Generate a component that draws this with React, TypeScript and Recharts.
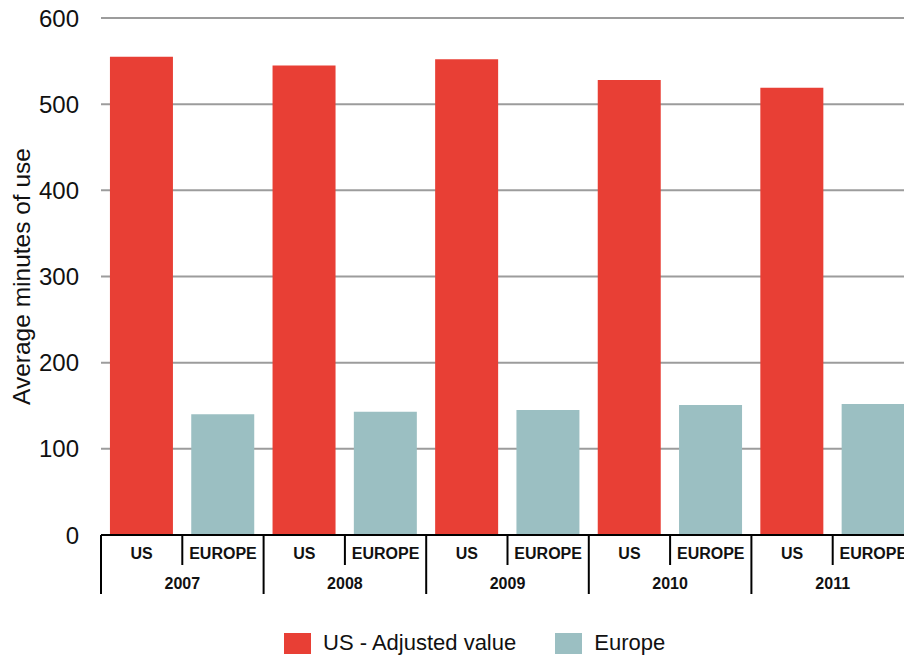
import React from "react";
import {
  BarChart,
  Bar,
  XAxis,
  YAxis,
  CartesianGrid,
  Legend,
} from "recharts";

const years = ["2007", "2008", "2009", "2010", "2011"];
const regions = ["US", "EUROPE"];
const usValues = [555, 545, 552, 528, 519];
const europeValues = [140, 143, 145, 151, 152];
const yTicks = [0, 100, 200, 300, 400, 500, 600];

const series = [
  { key: "us", name: "US - Adjusted value", color: "#E83F35" },
  { key: "europe", name: "Europe", color: "#9BBFC2" },
];

const data = years.flatMap((year, i) =>
  regions.map((region) => ({
    key: `${region}-${year}`,
    year,
    region,
    us: region === "US" ? usValues[i] : null,
    europe: region === "EUROPE" ? europeValues[i] : null,
  }))
);

const CHART_W = 914;
const CHART_H = 659;
const Y_AXIS_W = 101;
const BAND = (CHART_W - Y_AXIS_W) / data.length;
const FONT = "'Liberation Sans', Arial, sans-serif";

function CategoryTick(props: any) {
  const { x, y, payload } = props;
  const row = data[payload.index];
  if (!row) return null;
  const left = x - BAND / 2;
  const isUS = row.region === "US";
  return (
    <g>
      <line
        x1={left}
        x2={left}
        y1={y}
        y2={y + (isUS ? 59 : 30)}
        stroke="#000"
        strokeWidth={2}
      />
      <text
        x={x}
        y={y + 18}
        textAnchor="middle"
        dominantBaseline="central"
        fontFamily={FONT}
        fontWeight="bold"
        fontSize={16}
        fill="#111"
      >
        {row.region}
      </text>
      {isUS && (
        <text
          x={x + BAND / 2}
          y={y + 48}
          textAnchor="middle"
          dominantBaseline="central"
          fontFamily={FONT}
          fontWeight="bold"
          fontSize={16}
          fill="#111"
        >
          {row.year}
        </text>
      )}
    </g>
  );
}

function YLabel(props: any) {
  const { viewBox } = props;
  const cx = viewBox.x + 21;
  const cy = viewBox.y + viewBox.height / 2;
  return (
    <text
      x={cx}
      y={cy}
      transform={`rotate(-90, ${cx}, ${cy})`}
      textAnchor="middle"
      dominantBaseline="central"
      fontFamily={FONT}
      fontSize={24.5}
      fill="#111"
    >
      Average minutes of use
    </text>
  );
}

function LegendContent() {
  return (
    <div
      style={{
        height: 50,
        paddingTop: 18,
        boxSizing: "border-box",
        display: "flex",
        alignItems: "center",
        paddingLeft: 284,
        fontFamily: FONT,
        fontSize: 22,
        color: "#111",
      }}
    >
      {series.map((s, i) => (
        <div
          key={s.key}
          style={{ display: "flex", alignItems: "center", marginRight: i === 0 ? 39 : 0 }}
        >
          <span
            style={{
              display: "inline-block",
              width: 27,
              height: 21,
              background: s.color,
              marginRight: 12,
            }}
          />
          <span>{s.name}</span>
        </div>
      ))}
    </div>
  );
}

export default function App() {
  return (
    <div
      style={{
        position: "fixed",
        left: 0,
        top: 0,
        width: 904,
        height: 659,
        overflow: "hidden",
        background: "#fff",
      }}
    >
      <BarChart
        width={CHART_W}
        height={CHART_H}
        data={data}
        margin={{ top: 18, right: 0, left: 0, bottom: 0 }}
        barCategoryGap="11%"
      >
        <CartesianGrid vertical={false} stroke="#9c9c9c" strokeWidth={2} />
        <XAxis
          dataKey="key"
          interval={0}
          height={74}
          tickLine={false}
          tickSize={0}
          tickMargin={0}
          axisLine={{ stroke: "#000", strokeWidth: 2 }}
          tick={<CategoryTick />}
        />
        <YAxis
          width={Y_AXIS_W}
          domain={[0, 600]}
          ticks={yTicks}
          axisLine={false}
          tickLine={false}
          tickSize={0}
          tickMargin={22}
          tick={{ fontFamily: FONT, fontSize: 24, fill: "#111" }}
          label={<YLabel />}
        />
        <Legend verticalAlign="bottom" content={<LegendContent />} />
        {series.map((s) => (
          <Bar
            key={s.key}
            dataKey={s.key}
            name={s.name}
            stackId="a"
            fill={s.color}
            isAnimationActive={false}
          />
        ))}
      </BarChart>
    </div>
  );
}
